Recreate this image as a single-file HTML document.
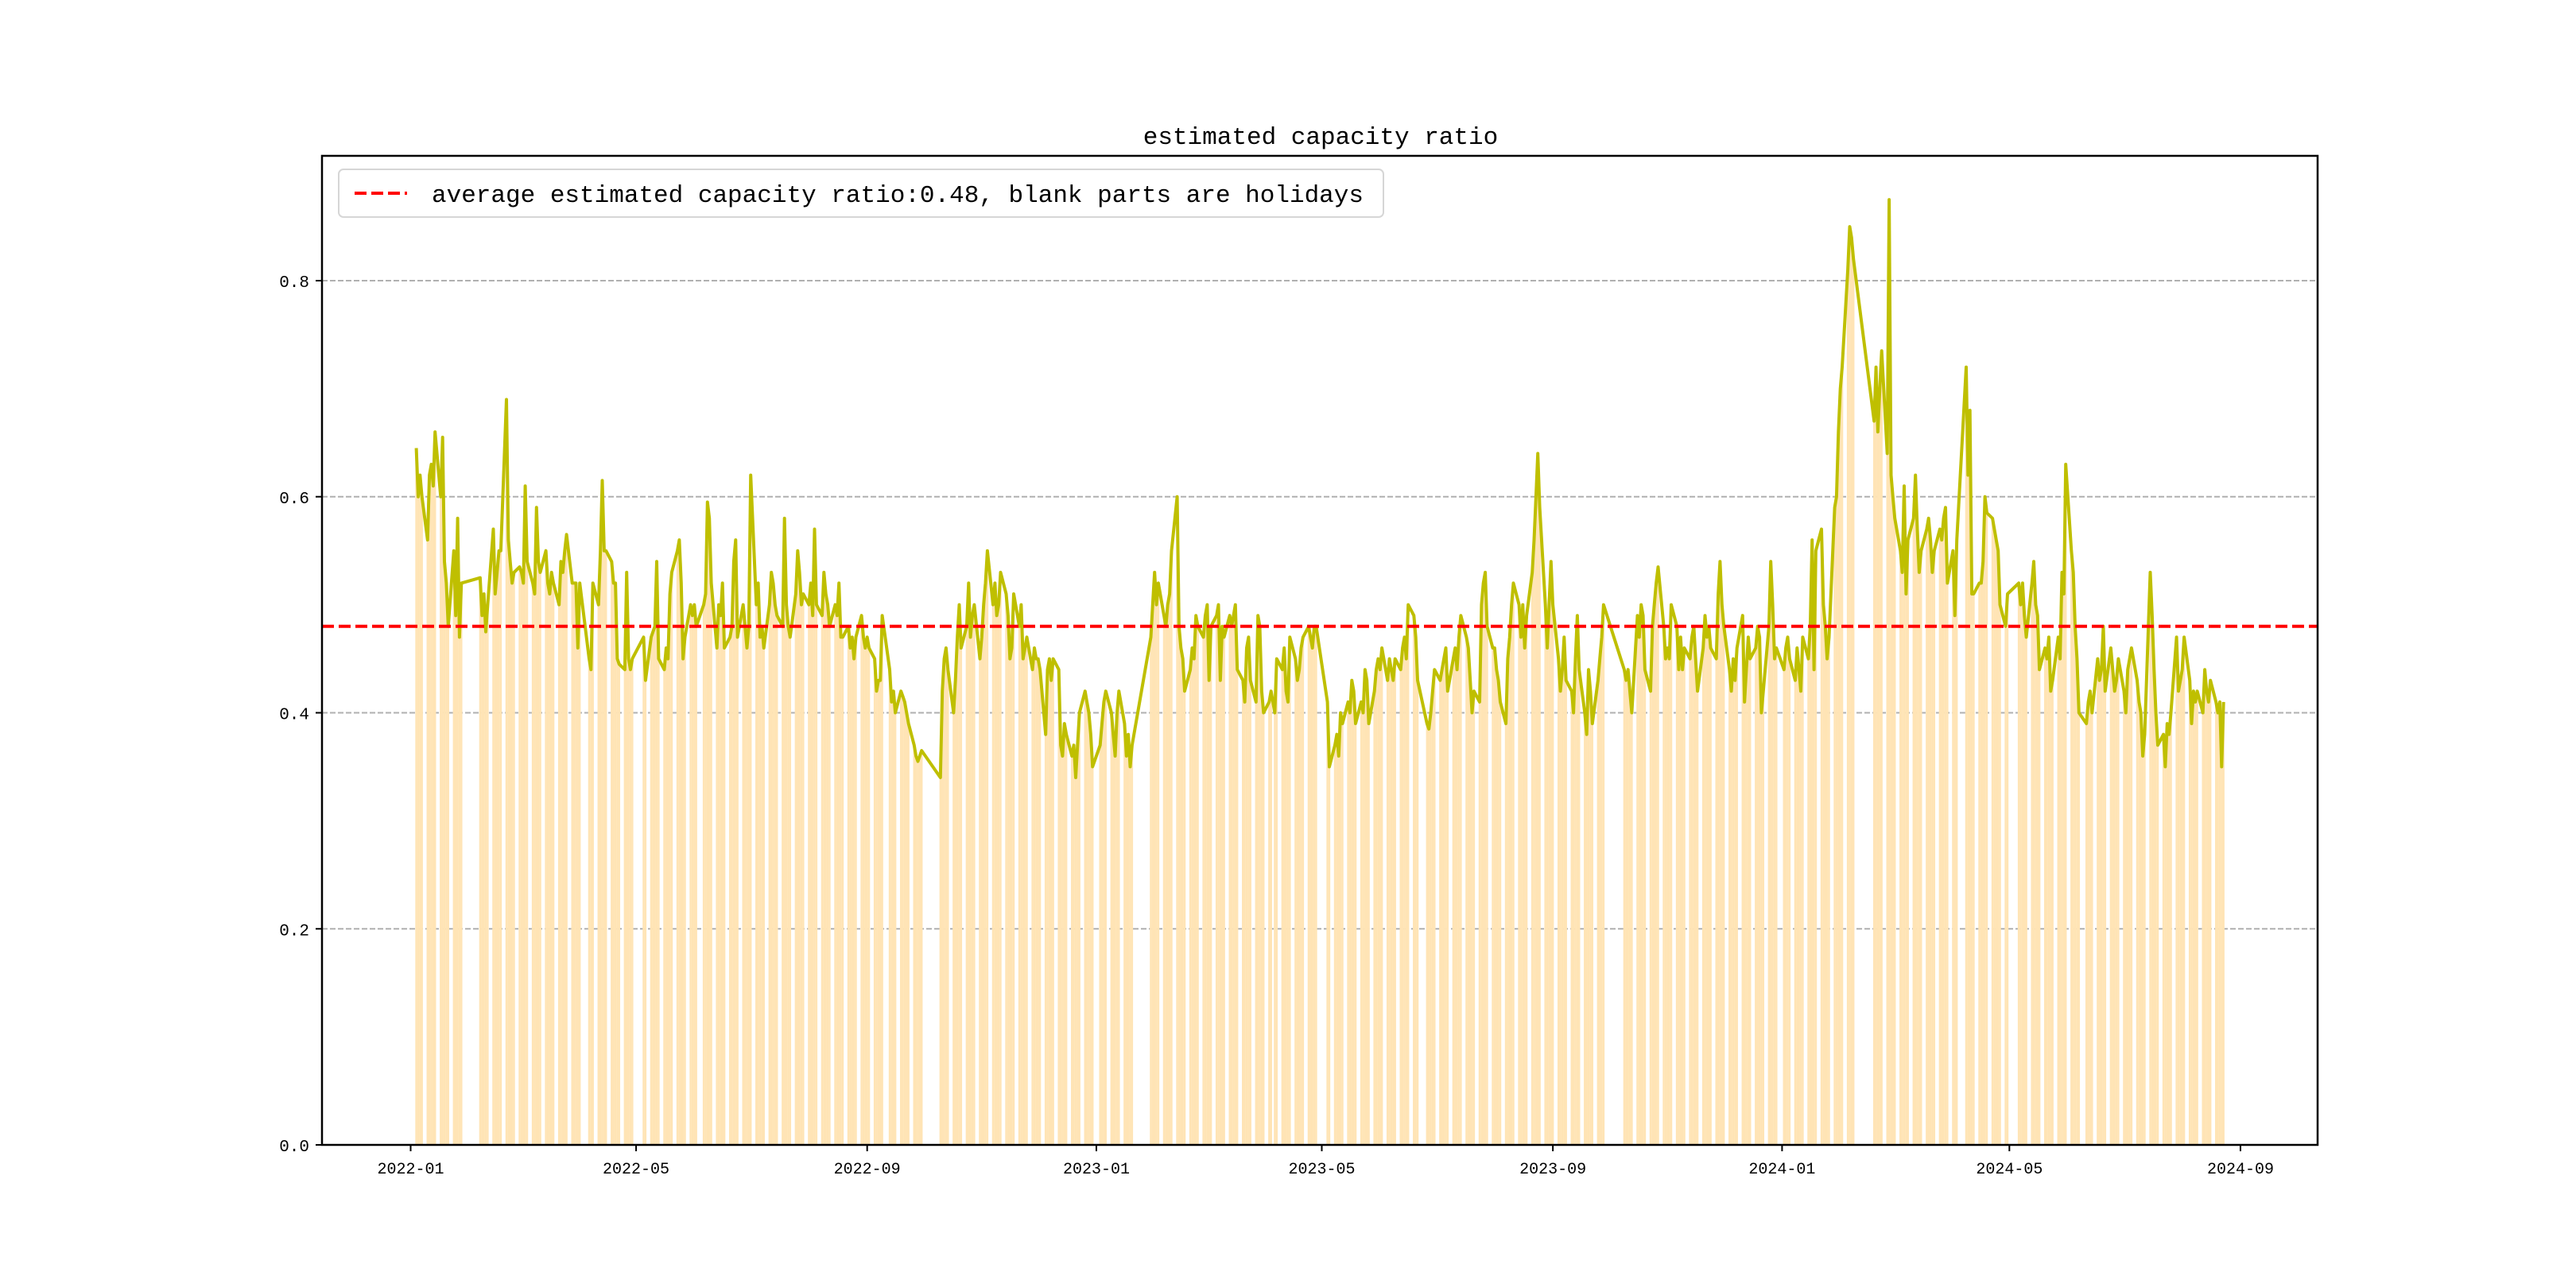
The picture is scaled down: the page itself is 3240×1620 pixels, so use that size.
<!DOCTYPE html>
<html><head><meta charset="utf-8"><style>
html,body{margin:0;padding:0;background:#fff;}
svg{display:block;}
text{font-family:"Liberation Mono","WenQuanYi Zen Hei",monospace;fill:#000;}
</style></head><body>
<svg id="chart" width="3240" height="1620" viewBox="0 0 3240 1620" xmlns="http://www.w3.org/2000/svg">
<rect x="0" y="0" width="3240" height="1620" fill="#fff"/>
<text x="1661" y="181" font-size="31" text-anchor="middle">estimated capacity ratio</text>
<g id="grid"></g>
<g id="bars"></g>
<g id="lines"></g>
<g id="axes"></g>
<g id="legend">
<rect x="426" y="213" width="1314" height="60" rx="6" fill="#fff" fill-opacity="0.8" stroke="#d6d6d6" stroke-width="2"/>
<line x1="446" y1="243" x2="512" y2="243" stroke="#ff0000" stroke-width="4" stroke-dasharray="15,6"/>
<text x="543" y="254" font-size="31">average estimated capacity ratio:0.48, blank parts are holidays</text>
</g>
</svg>
<script>
const monthKeys = ["2022-01","2022-02","2022-03","2022-04","2022-05","2022-06","2022-07","2022-08","2022-09","2022-10","2022-11","2022-12","2023-01","2023-02","2023-03","2023-04","2023-05","2023-06","2023-07","2023-08","2023-09","2023-10","2023-11","2023-12","2024-01","2024-02","2024-03","2024-04","2024-05","2024-06","2024-07","2024-08"];
const holidays = ["2022-01-03","2022-01-31","2022-02-01","2022-02-02","2022-02-03","2022-02-04","2022-04-04","2022-04-05","2022-05-02","2022-05-03","2022-05-04","2022-06-03","2022-09-12","2022-10-03","2022-10-04","2022-10-05","2022-10-06","2022-10-07","2023-01-02","2023-01-23","2023-01-24","2023-01-25","2023-01-26","2023-01-27","2023-04-05","2023-05-01","2023-05-02","2023-05-03","2023-06-22","2023-06-23","2023-09-29","2023-10-02","2023-10-03","2023-10-04","2023-10-05","2023-10-06","2024-01-01","2024-02-09","2024-02-12","2024-02-13","2024-02-14","2024-02-15","2024-02-16","2024-04-04","2024-04-05","2024-05-01","2024-05-02","2024-05-03","2024-06-10"];
const lastDay = "2024-08-23";
const ratios2022a = [
[0.645,0.60,0.62,0.60,0.56,0.62,0.63,0.61,0.66,0.60,0.655,0.54,0.52,0.48,0.55,0.49,0.58,0.47,0.52],
[0.525,0.49,0.51,0.475,0.50,0.57,0.51,0.53,0.55,0.55,0.69,0.56,0.54,0.52,0.53,0.535],
[0.53,0.52,0.61,0.54,0.52,0.51,0.59,0.54,0.53,0.55,0.52,0.51,0.53,0.52,0.50,0.54,0.53,0.55,0.565,0.52,0.52,0.52,0.46],
[0.52,0.45,0.44,0.52,0.50,0.55,0.615,0.55,0.55,0.54,0.52,0.52,0.45,0.445,0.44,0.53,0.45,0.44,0.45],
[0.47,0.43,0.47,0.475,0.48,0.54,0.45,0.44,0.46,0.45,0.51,0.53,0.55,0.56,0.52,0.45,0.47,0.50,0.49],
[0.50,0.48,0.50,0.51,0.595,0.58,0.52,0.46,0.50,0.49,0.52,0.46,0.47,0.48,0.54,0.56,0.47,0.50,0.48,0.46,0.48]];
const ratios2022b = [
[0.62,0.50,0.52,0.47,0.48,0.46,0.50,0.53,0.52,0.50,0.49,0.48,0.58,0.50,0.48,0.47,0.51,0.55,0.53,0.50,0.51],
[0.50,0.52,0.49,0.57,0.50,0.49,0.53,0.51,0.50,0.48,0.50,0.49,0.52,0.47,0.47,0.48,0.46,0.47,0.45,0.47,0.49,0.47,0.46],
[0.47,0.46,0.45,0.42,0.43,0.43,0.49,0.44,0.41,0.42,0.40,0.42,0.415,0.41,0.40,0.39,0.37,0.36,0.355,0.36,0.365],
[0.34,0.42,0.45,0.46,0.44,0.40,0.43,0.47,0.50,0.46,0.48,0.52,0.47,0.49,0.50,0.45],
[0.47,0.50,0.52,0.55,0.50,0.52,0.49,0.50,0.53,0.51,0.49,0.45,0.46,0.51,0.48,0.50,0.45,0.46,0.47,0.44,0.46,0.45],
[0.45,0.44,0.38,0.44,0.45,0.43,0.45,0.44,0.37,0.36,0.39,0.38,0.36,0.37,0.34,0.37,0.40,0.42,0.41,0.40,0.38,0.35]];
const ratios2023a = [
[0.37,0.39,0.41,0.42,0.40,0.38,0.36,0.40,0.42,0.39,0.36,0.38,0.35,0.37,0.47,0.50],
[0.53,0.50,0.52,0.49,0.48,0.50,0.51,0.55,0.60,0.48,0.46,0.45,0.42,0.44,0.46,0.45,0.49,0.48,0.47,0.49],
[0.50,0.43,0.48,0.49,0.50,0.43,0.48,0.47,0.49,0.48,0.49,0.50,0.44,0.43,0.41,0.46,0.47,0.43,0.41,0.49,0.48,0.42,0.40],
[0.41,0.42,0.40,0.45,0.44,0.46,0.42,0.41,0.47,0.45,0.43,0.44,0.46,0.47,0.48,0.47,0.46,0.48,0.48],
[0.41,0.35,0.37,0.38,0.36,0.40,0.39,0.41,0.40,0.43,0.42,0.39,0.41,0.40,0.44,0.43,0.39,0.42,0.44,0.45],
[0.44,0.46,0.43,0.45,0.44,0.43,0.45,0.44,0.46,0.47,0.45,0.50,0.49,0.47,0.43,0.39,0.385,0.40,0.42,0.44]];
const ratios2023b = [
[0.43,0.44,0.45,0.46,0.42,0.45,0.46,0.44,0.47,0.49,0.47,0.46,0.43,0.40,0.42,0.41,0.50,0.52,0.53,0.48,0.46],
[0.46,0.44,0.43,0.41,0.39,0.45,0.47,0.50,0.52,0.50,0.47,0.50,0.46,0.49,0.53,0.56,0.60,0.64,0.59,0.50,0.46,0.50,0.54],
[0.50,0.45,0.42,0.44,0.47,0.43,0.42,0.40,0.45,0.49,0.44,0.40,0.38,0.44,0.42,0.39,0.43,0.45,0.47,0.50],
[0.44,0.43,0.44,0.42,0.40,0.49,0.47,0.50,0.49,0.44,0.42,0.48,0.50,0.52,0.535,0.48,0.45],
[0.46,0.45,0.50,0.48,0.44,0.47,0.44,0.46,0.45,0.47,0.48,0.45,0.42,0.46,0.49,0.47,0.48,0.46,0.45,0.51,0.54,0.50],
[0.48,0.44,0.42,0.45,0.43,0.46,0.49,0.41,0.44,0.47,0.45,0.46,0.48,0.47,0.40,0.42,0.48,0.54,0.50,0.45,0.46]];
const ratios2024 = [
[0.44,0.46,0.47,0.45,0.43,0.46,0.44,0.42,0.47,0.45,0.48,0.56,0.44,0.55,0.57,0.50,0.48,0.45,0.47,0.59,0.60,0.66],
[0.70,0.72,0.81,0.85,0.84,0.82,0.67,0.72,0.66,0.70,0.735,0.64,0.875,0.62,0.60],
[0.58,0.55,0.53,0.61,0.51,0.56,0.58,0.62,0.57,0.53,0.55,0.57,0.58,0.56,0.53,0.55,0.57,0.56,0.58,0.59,0.52],
[0.55,0.49,0.56,0.72,0.62,0.68,0.51,0.51,0.52,0.52,0.54,0.60,0.585,0.58,0.57,0.56,0.55,0.50,0.48,0.51],
[0.52,0.50,0.52,0.49,0.47,0.52,0.54,0.50,0.49,0.44,0.46,0.45,0.47,0.42,0.43,0.47,0.45,0.53,0.51,0.63],
[0.55,0.53,0.48,0.45,0.40,0.39,0.41,0.42,0.40,0.45,0.43,0.44,0.48,0.42,0.46,0.44,0.42,0.43,0.45],
[0.42,0.40,0.44,0.45,0.46,0.43,0.41,0.40,0.36,0.38,0.53,0.49,0.44,0.40,0.37,0.38,0.35,0.39,0.38,0.40,0.47,0.42,0.43],
[0.44,0.47,0.43,0.39,0.42,0.41,0.42,0.40,0.44,0.42,0.41,0.43,0.41,0.40,0.41,0.35,0.41]];
const meanRatio = [0.48];
const yTicks = [0.0,0.2,0.4,0.6,0.8];
const yTickLabels = ["0.0","0.2","0.4","0.6","0.8"];
const xTickLabels = ["2022-01","2022-05","2022-09","2023-01","2023-05","2023-09","2024-01","2024-05","2024-09"];

const NS = "http://www.w3.org/2000/svg";
const PL = 405, PR = 2915, PT = 196, PB = 1440;
const X0 = Date.UTC(2022,0,1), PXDAY = 2.3629, DAY = 86400000;
function xScale(t){ return 516.5 + (t - X0) / DAY * PXDAY; }
function yScale(v){ return PB - v / 0.8 * (PB - 353); }
function parseD(s){ const p = s.split("-").map(Number); return Date.UTC(p[0], p[1]-1, p[2] || 1); }
function mk(tag, attrs, parent){ const e = document.createElementNS(NS, tag); for (const k in attrs) e.setAttribute(k, attrs[k]); parent.appendChild(e); return e; }

const allMonths = ratios2022a.concat(ratios2022b, ratios2023a, ratios2023b, ratios2024);
const hol = new Set(holidays);
const endT = parseD(lastDay);
const points = [];
monthKeys.forEach((mkey, mi) => {
  const vals = allMonths[mi];
  const start = parseD(mkey);
  const d0 = new Date(start);
  const days = [];
  for (let t = start; ; t += DAY) {
    const d = new Date(t);
    if (d.getUTCMonth() !== d0.getUTCMonth() || t > endT) break;
    const wd = d.getUTCDay();
    const iso = d.toISOString().slice(0,10);
    if (wd === 0 || wd === 6 || hol.has(iso)) continue;
    days.push(t);
  }
  days.forEach((t, i) => {
    const v = vals[Math.min(i, vals.length - 1)];
    points.push([t, v]);
  });
});

const grid = document.getElementById("grid");
yTicks.forEach((v, i) => {
  if (v === 0) return;
  const g = mk("line", {x1: PL, x2: PR, y1: yScale(v), y2: yScale(v), stroke: "#b0b0b0", "stroke-width": 2, "stroke-dasharray": "7,3"}, grid);
  
  
});

const bars = document.getElementById("bars");
const bw = PXDAY * 1.05;
points.forEach(p => {
  const b = mk("rect", {x: xScale(p[0]) - bw/2, y: yScale(p[1]), width: bw, height: PB - yScale(p[1]), fill: "#ffe4b5"}, bars);
  
  
});

const lines = document.getElementById("lines");
const path = mk("polyline", {points: points.map(p => xScale(p[0]).toFixed(1) + "," + yScale(p[1]).toFixed(1)).join(" "), fill: "none", stroke: "#bfbf00", "stroke-width": 4, "stroke-linejoin": "round"}, lines);


const mean = mk("line", {x1: PL, x2: PR, y1: yScale(meanRatio[0]), y2: yScale(meanRatio[0]), stroke: "#ff0000", "stroke-width": 4, "stroke-dasharray": "15,6"}, lines);



const axes = document.getElementById("axes");
const frame = mk("rect", {x: PL, y: PT, width: PR - PL, height: PB - PT, fill: "none", stroke: "#000", "stroke-width": 2.5}, axes);


yTicks.forEach((v, i) => {
  const y = yScale(v);
  const tk = mk("line", {x1: PL - 8, x2: PL, y1: y, y2: y, stroke: "#000", "stroke-width": 2}, axes);
  
  
  const tx = mk("text", {x: PL - 16, y: y + 8, "font-size": 21, "text-anchor": "end"}, axes);
  tx.textContent = yTickLabels[i];
  
  
});
xTickLabels.forEach(lbl => {
  const x = xScale(parseD(lbl));
  const tk = mk("line", {x1: x, x2: x, y1: PB, y2: PB + 8, stroke: "#000", "stroke-width": 2}, axes);
  
  
  const tx = mk("text", {x: x, y: PB + 36, "font-size": 20, "text-anchor": "middle"}, axes);
  tx.textContent = lbl;
  
  
});
</script>
</body></html>
